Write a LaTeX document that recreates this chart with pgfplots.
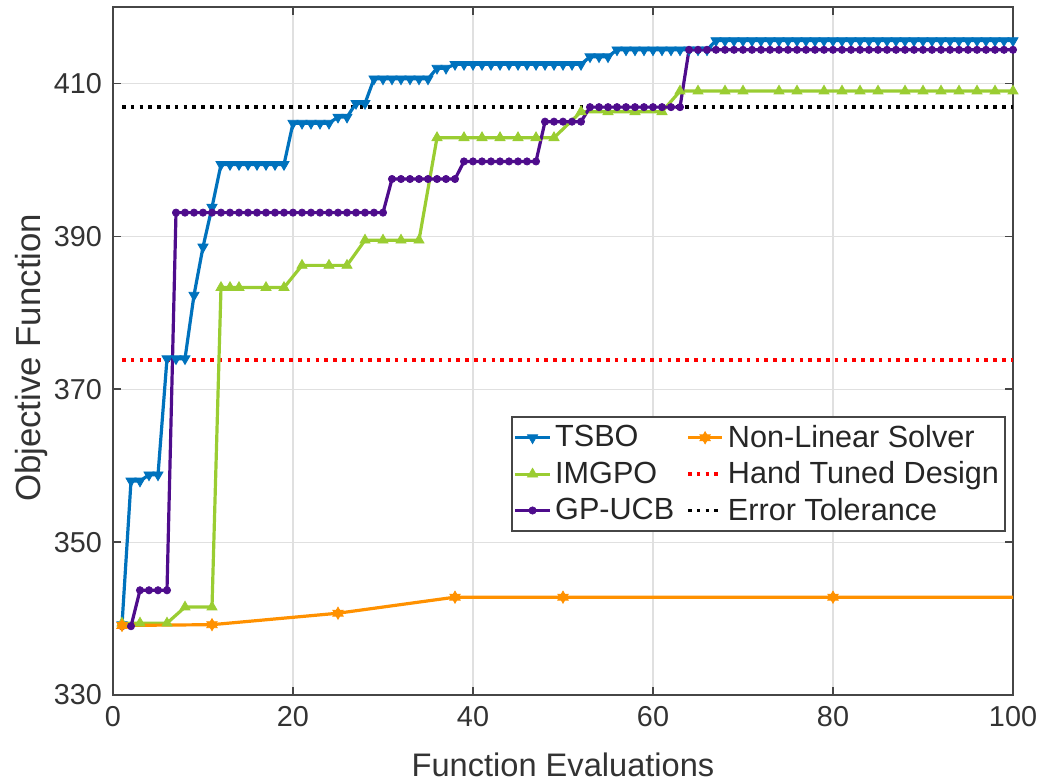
\documentclass[border=0pt]{standalone}
\usepackage{fontspec}
\setmainfont{Liberation Sans}
\usepackage{pgfplots}
\pgfplotsset{compat=1.18}
\usepackage{pgfplotstable}
\definecolor{cTSBO}{RGB}{0,114,189}
\definecolor{cIMG}{RGB}{154,205,50}
\definecolor{cGP}{RGB}{78,12,140}
\definecolor{cNLS}{RGB}{255,145,0}
\definecolor{axgray}{RGB}{70,70,70}

\pgfdeclareplotmark{hexagram}{%
  \pgfpathmoveto{\pgfqpointpolar{90}{\pgfplotmarksize}}%
  \pgfpathlineto{\pgfqpointpolar{210}{\pgfplotmarksize}}%
  \pgfpathlineto{\pgfqpointpolar{330}{\pgfplotmarksize}}%
  \pgfpathclose
  \pgfpathmoveto{\pgfqpointpolar{270}{\pgfplotmarksize}}%
  \pgfpathlineto{\pgfqpointpolar{30}{\pgfplotmarksize}}%
  \pgfpathlineto{\pgfqpointpolar{150}{\pgfplotmarksize}}%
  \pgfpathclose
  \pgfusepathqfillstroke}

\pgfplotstableread{
x y
1 339.2
2 358.0
3 358.0
4 358.8
5 358.8
6 374.0
7 374.0
8 374.0
9 382.3
10 388.6
11 393.8
12 399.4
13 399.4
14 399.4
15 399.4
16 399.4
17 399.4
18 399.4
19 399.4
20 404.8
21 404.8
22 404.8
23 404.8
24 404.8
25 405.6
26 405.6
27 407.4
28 407.4
29 410.6
30 410.6
31 410.6
32 410.6
33 410.6
34 410.6
35 410.6
36 412.0
37 412.0
38 412.5
39 412.5
40 412.5
41 412.5
42 412.5
43 412.5
44 412.5
45 412.5
46 412.5
47 412.5
48 412.5
49 412.5
50 412.5
51 412.5
52 412.5
53 413.5
54 413.5
55 413.5
56 414.4
57 414.4
58 414.4
59 414.4
60 414.4
61 414.4
62 414.4
63 414.4
64 414.4
65 414.4
66 414.4
67 415.6
68 415.6
69 415.6
70 415.6
71 415.6
72 415.6
73 415.6
74 415.6
75 415.6
76 415.6
77 415.6
78 415.6
79 415.6
80 415.6
81 415.6
82 415.6
83 415.6
84 415.6
85 415.6
86 415.6
87 415.6
88 415.6
89 415.6
90 415.6
91 415.6
92 415.6
93 415.6
94 415.6
95 415.6
96 415.6
97 415.6
98 415.6
99 415.6
100 415.6
}\tsbo

\pgfplotstableread{
x y
1 339.4
3 339.4
6 339.4
8 341.5
11 341.5
12 383.3
13 383.3
14 383.3
17 383.3
19 383.3
21 386.2
24 386.2
26 386.2
28 389.5
30 389.5
32 389.5
34 389.5
36 402.9
39 402.9
41 402.9
43 402.9
45 402.9
47 402.9
49 402.9
52 406.3
55 406.3
58 406.3
61 406.3
63 409.0
65 409.0
68 409.0
70 409.0
74 409.0
76 409.0
79 409.0
81 409.0
83 409.0
85 409.0
88 409.0
90 409.0
92 409.0
94 409.0
96 409.0
98 409.0
100 409.0
}\imgpo

\pgfplotstableread{
x y
1 339.0
2 339.0
3 343.7
4 343.7
5 343.7
6 343.7
7 393.1
8 393.1
9 393.1
10 393.1
11 393.1
12 393.1
13 393.1
14 393.1
15 393.1
16 393.1
17 393.1
18 393.1
19 393.1
20 393.1
21 393.1
22 393.1
23 393.1
24 393.1
25 393.1
26 393.1
27 393.1
28 393.1
29 393.1
30 393.1
31 397.5
32 397.5
33 397.5
34 397.5
35 397.5
36 397.5
37 397.5
38 397.5
39 399.8
40 399.8
41 399.8
42 399.8
43 399.8
44 399.8
45 399.8
46 399.8
47 399.8
48 405.0
49 405.0
50 405.0
51 405.0
52 405.0
53 406.9
54 406.9
55 406.9
56 406.9
57 406.9
58 406.9
59 406.9
60 406.9
61 406.9
62 406.9
63 406.9
64 414.4
65 414.4
66 414.4
67 414.4
68 414.4
69 414.4
70 414.4
71 414.4
72 414.4
73 414.4
74 414.4
75 414.4
76 414.4
77 414.4
78 414.4
79 414.4
80 414.4
81 414.4
82 414.4
83 414.4
84 414.4
85 414.4
86 414.4
87 414.4
88 414.4
89 414.4
90 414.4
91 414.4
92 414.4
93 414.4
94 414.4
95 414.4
96 414.4
97 414.4
98 414.4
99 414.4
100 414.4
}\gpucb

\pgfplotstableread{
x y
1 339.1
11 339.2
25 340.7
38 342.8
50 342.8
80 342.8
100 342.8
}\nls

\begin{document}
\begin{tikzpicture}
\useasboundingbox (-56.5pt,-44pt) rectangle (465pt,347.5pt);
\begin{axis}[
  scale only axis,
  width=450pt, height=344pt,
  xmin=0, xmax=100, ymin=330, ymax=420,
  xtick={0,20,...,100}, ytick={330,350,...,410},
  grid=major,
  major grid style={black!12, line width=0.6pt},
  axis line style={axgray, line width=1pt},
  tick align=inside,
  major tick length=4pt,
  tick style={axgray, line width=0.8pt},
  /pgf/number format/assume math mode=true,
  ticklabel style={font=\fontsize{14.4}{16}\selectfont, text=black!80},
  yticklabel style={xshift=-2pt},
  xticklabel style={yshift=-2pt},
  xlabel={Function Evaluations},
  ylabel={Objective Function},
  xlabel style={font=\fontsize{16.3}{19}\selectfont, text=black!80, at={(axis description cs:0.5,-0.118)}, anchor=base},
  ylabel style={font=\fontsize{17.4}{20}\selectfont, text=black!80, at={(axis description cs:-0.081,0.49)}, anchor=base},
  legend columns=2,
  legend cell align=left,
  legend style={at={(rel axis cs:0.992,0.405)}, anchor=north east,
    draw=axgray, line width=0.8pt, fill=white,
    font=\fontsize{15.3}{18}\selectfont, text=black!85,
    inner xsep=1pt, inner ysep=2pt, row sep=1.6pt,
    /tikz/every even column/.append style={column sep=4pt}},
  legend image code/.code={\draw[mark repeat=2,mark phase=2] plot coordinates {(0cm,0cm) (0.3cm,0cm) (0.6cm,0cm)};},
  tsbostyle/.style={cTSBO, line width=1.6pt, mark=triangle*, mark size=2.9pt, mark options={fill=cTSBO, draw=cTSBO, line width=0.4pt, rotate=180}},
  imgstyle/.style={cIMG, line width=1.6pt, mark=triangle*, mark size=2.9pt, mark options={fill=cIMG, draw=cIMG, line width=0.4pt}},
  gpstyle/.style={cGP, line width=1.6pt, mark=*, mark size=1.8pt, mark options={fill=cGP, draw=cGP, line width=0.4pt}},
  nlsstyle/.style={cNLS, line width=1.6pt, mark=hexagram, mark size=3pt, mark options={fill=cNLS, draw=cNLS, line width=0.4pt}},
  handstyle/.style={red, line width=1.8pt, dash pattern=on 1.8pt off 2.6pt},
  errstyle/.style={black, line width=1.8pt, dash pattern=on 1.8pt off 2.6pt},
]
\addlegendimage{tsbostyle}\addlegendentry{TSBO}
\addlegendimage{nlsstyle}\addlegendentry{Non-Linear Solver}
\addlegendimage{imgstyle}\addlegendentry{IMGPO}
\addlegendimage{handstyle}\addlegendentry{Hand Tuned Design}
\addlegendimage{gpstyle}\addlegendentry{GP-UCB}
\addlegendimage{errstyle}\addlegendentry{Error Tolerance}

\addplot[handstyle, forget plot] coordinates {(1,373.8) (100,373.8)};
\addplot[errstyle, forget plot] coordinates {(1,406.9) (100,406.9)};
\addplot[tsbostyle, forget plot] table[x=x,y=y] {\tsbo};
\addplot[imgstyle, forget plot] table[x=x,y=y] {\imgpo};
\addplot[gpstyle, forget plot] table[x=x,y=y] {\gpucb};
\addplot[nlsstyle, forget plot, mark indices={1,2,3,4,5,6}] table[x=x,y=y] {\nls};
\end{axis}
\end{tikzpicture}
\end{document}
